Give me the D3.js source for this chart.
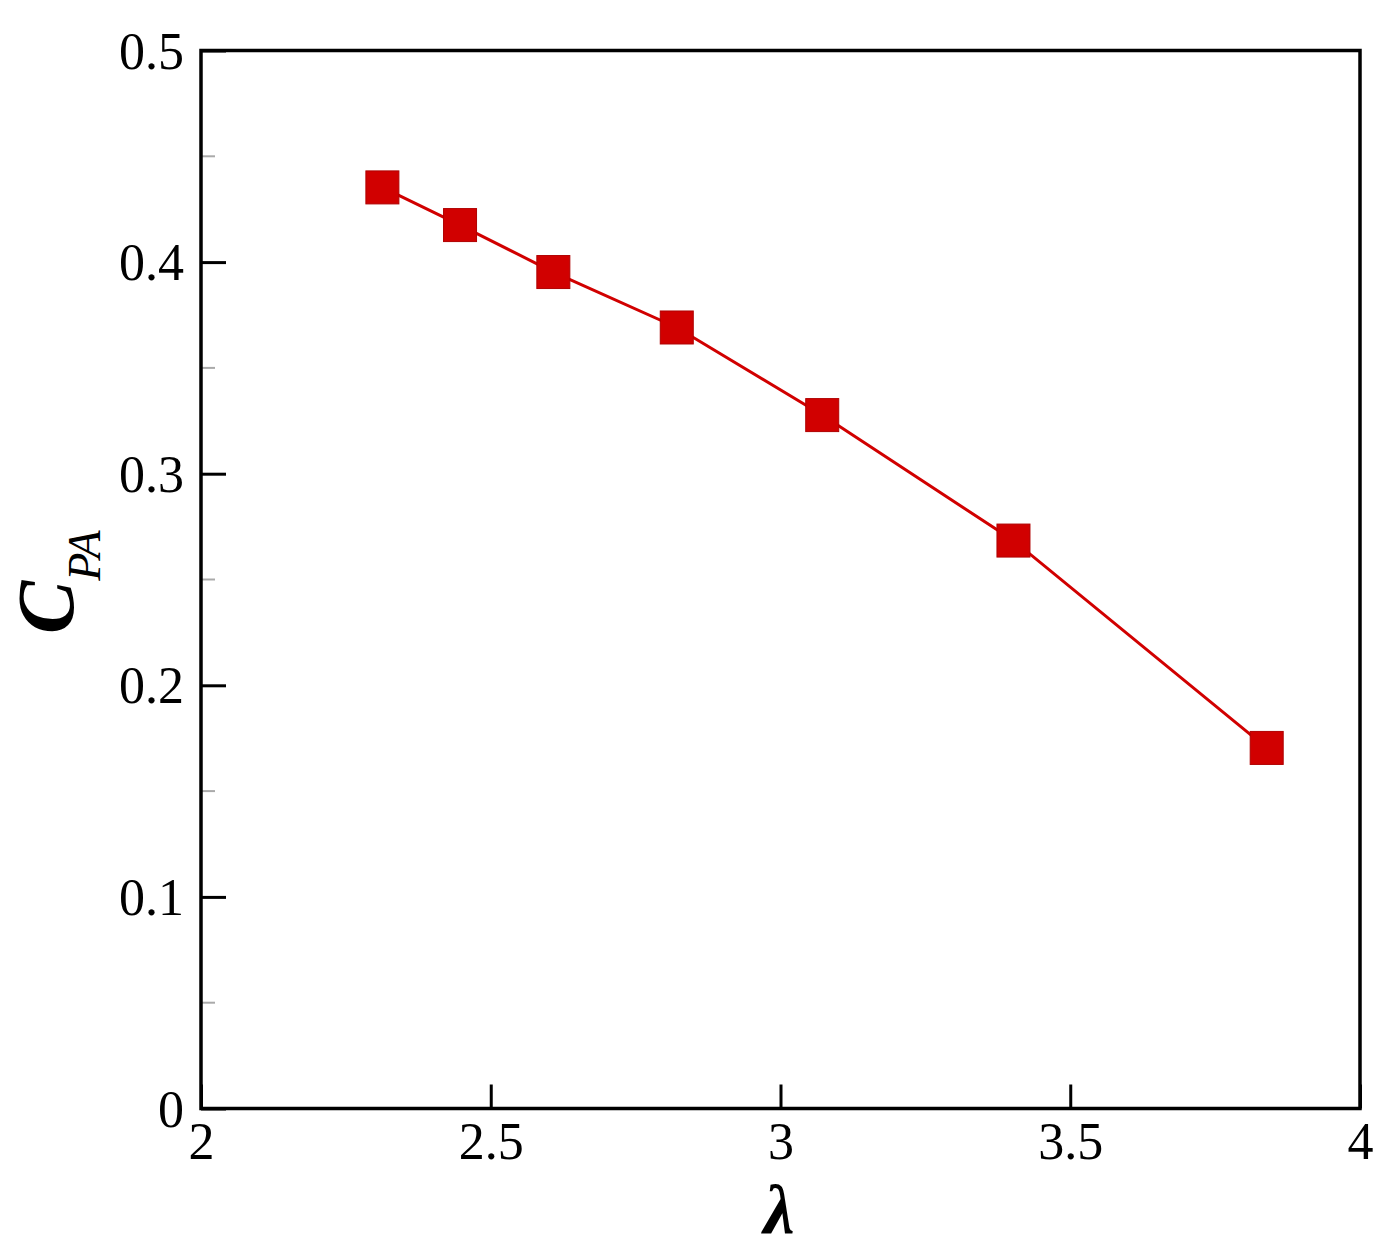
<!DOCTYPE html>
<html><head><meta charset="utf-8">
<script src="https://cdn.jsdelivr.net/npm/d3@7"></script>
<style>body{margin:0;background:#fff;overflow:hidden}svg{display:block}</style>
</head><body>
<svg id="c" width="1400" height="1260"></svg>
<script>
const lambdaVals = [2.313, 2.447, 2.608, 2.821, 3.072, 3.402, 3.839];
const cpaVals = [0.4353, 0.4175, 0.3953, 0.3691, 0.3277, 0.2684, 0.1704];
const xTicks = [2, 2.5, 3, 3.5, 4];
const yTicks = [0, 0.1, 0.2, 0.3, 0.4, 0.5];
const yMinorTicks = [0.05, 0.15, 0.25, 0.35, 0.45];

const svg = d3.select('#c');
const L = 201, R = 1360, T = 50.5, B = 1108.5;
const x = d3.scaleLinear().domain([2, 4]).range([L, R]);
const y = d3.scaleLinear().domain([0, 0.5]).range([B, T]);
const font = "'Liberation Serif', 'Times New Roman', serif";
const red = '#d10000';

// minor y ticks
svg.append('g').selectAll('line').data(yMinorTicks).join('line')
  .attr('x1', L).attr('x2', L + 14)
  .attr('y1', d => y(d)).attr('y2', d => y(d))
  .attr('stroke', '#aaa').attr('stroke-width', 2);

// y axis (ticks inward)
const yAxis = d3.axisLeft(y).tickValues(yTicks).tickSize(-25).tickPadding(0)
  .tickFormat(d => d === 0 ? '0' : d3.format('.1f')(d));
const gy = svg.append('g').attr('transform', `translate(${L},0)`).call(yAxis);
gy.select('.domain').remove();
gy.selectAll('.tick line').attr('stroke', '#000').attr('stroke-width', 3);
gy.selectAll('.tick text').attr('x', -17).attr('dy', '0.34em')
  .attr('font-family', font).attr('font-size', 52).attr('fill', '#000');

// x axis (ticks inward)
const xAxis = d3.axisBottom(x).tickValues(xTicks).tickSize(-24).tickPadding(0)
  .tickFormat(d => d3.format('')(d));
const gx = svg.append('g').attr('transform', `translate(0,${B})`).call(xAxis);
gx.select('.domain').remove();
gx.selectAll('.tick line').attr('stroke', '#000').attr('stroke-width', 3);
gx.selectAll('.tick text').attr('y', 50).attr('dy', 0)
  .attr('font-family', font).attr('font-size', 52).attr('fill', '#000');

// frame
svg.append('rect').attr('x', L).attr('y', T).attr('width', R - L).attr('height', B - T)
  .attr('fill', 'none').attr('stroke', '#000').attr('stroke-width', 3.5);

// data
const pts = lambdaVals.map((v, i) => [v, cpaVals[i]]);
svg.append('path').datum(pts)
  .attr('d', d3.line().x(d => x(d[0])).y(d => y(d[1])))
  .attr('fill', 'none').attr('stroke', red).attr('stroke-width', 3);
const s = 33;
svg.append('g').selectAll('rect').data(pts).join('rect')
  .attr('x', d => x(d[0]) - s / 2).attr('y', d => y(d[1]) - s / 2)
  .attr('width', s).attr('height', s)
  .attr('fill', red).attr('stroke', '#b00000').attr('stroke-width', 1);

// x title
svg.append('text').attr('x', 779).attr('y', 1233).attr('text-anchor', 'middle')
  .attr('font-family', font).attr('font-size', 70).attr('font-weight', 'bold')
  .attr('font-style', 'italic').text('λ');

// y title
const yt = svg.append('text').attr('transform', 'translate(73,634) rotate(-90)')
  .attr('font-family', font).attr('font-style', 'italic').attr('font-weight', 'bold');
yt.append('tspan').attr('font-size', 80).text('C');
yt.append('tspan').attr('font-size', 46).attr('font-weight', 'normal').attr('dy', 27).text('PA');
</script>
</body></html>
